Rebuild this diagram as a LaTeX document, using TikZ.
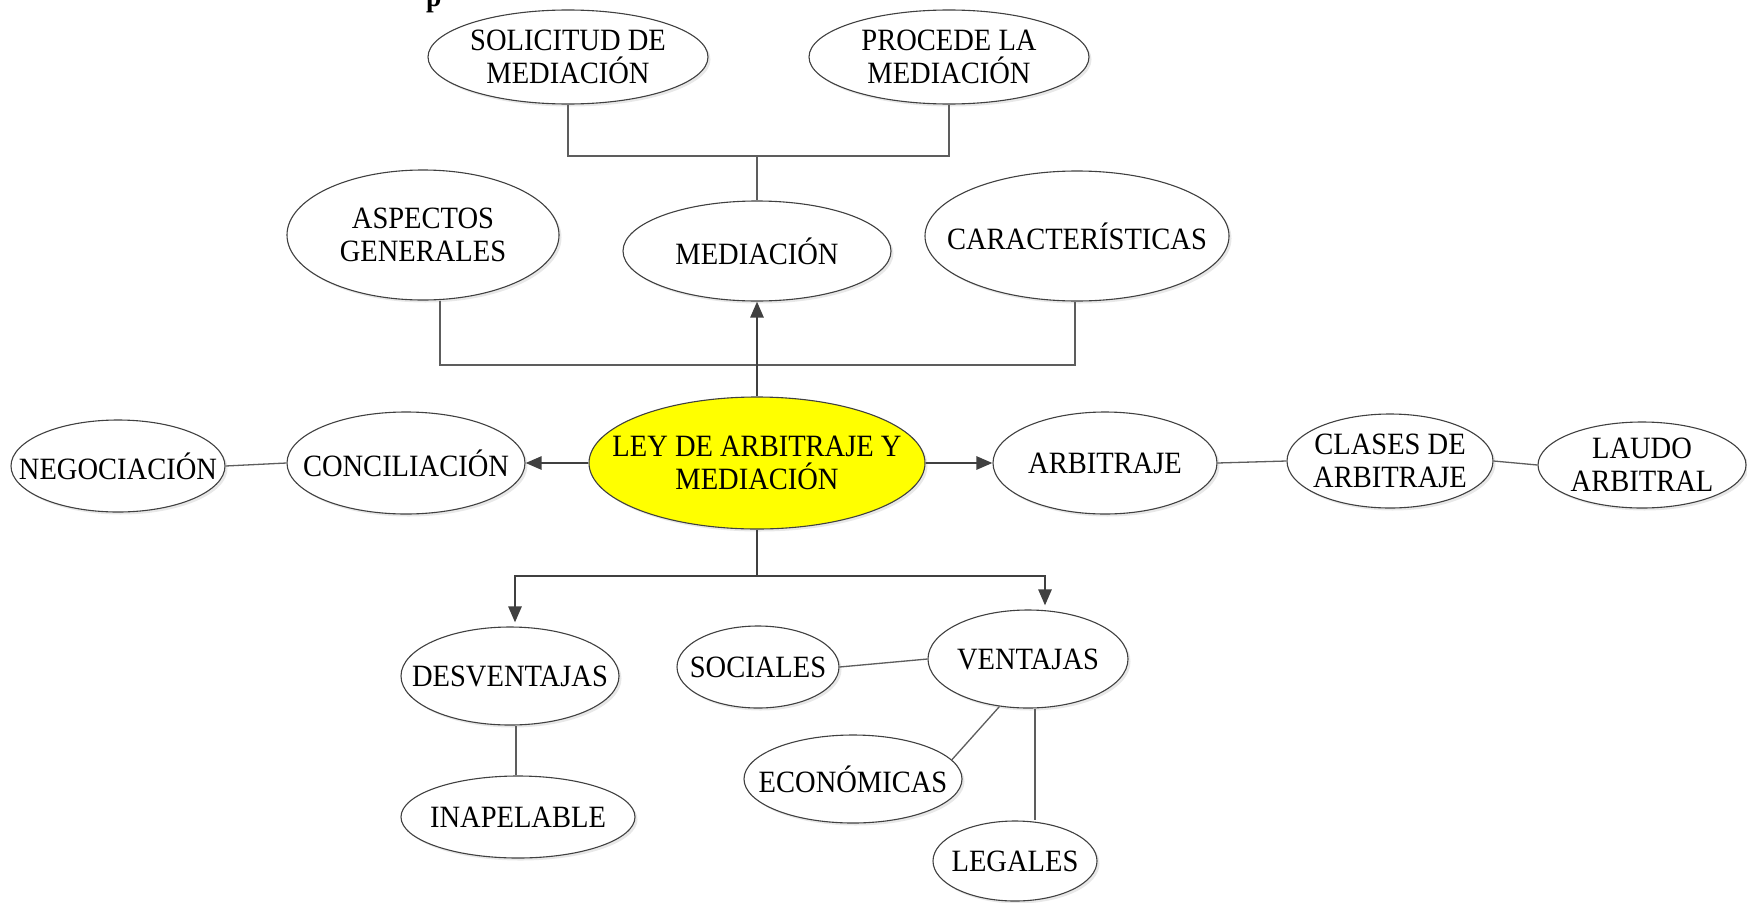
\documentclass[tikz,border=0pt]{standalone}
\usepackage{fontspec}
\setmainfont{Liberation Serif}[FakeStretch=0.92]
\usetikzlibrary{shapes.geometric,arrows.meta,shadows}
\definecolor{lineg}{HTML}{404040}
\definecolor{leyfill}{HTML}{FFFF00}
\tikzset{
  oval/.style={ellipse, draw=lineg, line width=1.1pt, fill=white, inner sep=0pt,
    drop shadow={shadow xshift=2.5pt, shadow yshift=-2.5pt, opacity=0.18, fill=gray}},
  txt/.style={align=center, font=\fontsize{31}{33}\selectfont, inner sep=0pt},
  thinline/.style={draw=lineg!85, line width=1.3pt},
  bigarrow/.style={draw=lineg, line width=2.6pt, -{Triangle[length=16pt,width=13pt]}},
  bigline/.style={draw=lineg, line width=2.6pt}
}
\newcommand{\ov}[6]{% name, x, y, rx, ry, text
  \node[oval, minimum width=#4*2pt, minimum height=#5*2pt, label={[txt]center:{#6}}] (#1) at (#2,#3) {};}
\begin{document}
\begin{tikzpicture}[x=1pt,y=-1pt]
\useasboundingbox[fill=white] (0,0) rectangle (1747,902);
\node[anchor=base west, font=\fontsize{30}{32}\selectfont\bfseries, inner sep=0pt] (ptxt) at (426,6) {p};
% nodes
\ov{sol}{568}{57}{140}{47}{SOLICITUD DE\\MEDIACIÓN}
\ov{pro}{949}{57}{140}{47}{PROCEDE LA\\MEDIACIÓN}
\ov{asp}{423}{235}{136}{65}{ASPECTOS\\GENERALES}
\ov{med}{757}{251}{134}{50}{MEDIACIÓN}
\ov{car}{1077}{236}{152}{65}{CARACTERÍSTICAS}
\node[oval, fill=leyfill, minimum width=336pt, minimum height=132pt, label={[txt]center:{LEY DE ARBITRAJE Y\\MEDIACIÓN}}] (ley) at (757,463) {};
\ov{con}{406}{463}{119}{51}{CONCILIACIÓN}
\ov{neg}{118}{466}{107}{46}{NEGOCIACIÓN}
\ov{arb}{1105}{463}{112}{51}{ARBITRAJE}
\ov{cla}{1390}{461}{103}{47}{CLASES DE\\ARBITRAJE}
\ov{lau}{1642}{465}{104}{43}{LAUDO\\ARBITRAL}
\ov{des}{510}{676}{109}{49}{DESVENTAJAS}
\ov{ina}{518}{817}{117}{41}{INAPELABLE}
\ov{soc}{758}{667}{81}{41}{SOCIALES}
\ov{ven}{1028}{659}{100}{49}{VENTAJAS}
\ov{eco}{853}{779}{109}{44}{ECONÓMICAS}
\ov{leg}{1015}{861}{82}{40}{LEGALES}
% junction points
\coordinate (b1) at (ley.north |- 0,156);
\coordinate (b2) at (ley.north |- 0,365);
\coordinate (b3) at (ley.south |- 0,576);
% top bracket
\draw[thinline] (sol.south) |- (b1) -| (pro.south);
\draw[thinline] (b1) -- (med.north);
% middle bracket
\draw[thinline] ([xshift=17pt]asp.south) |- (b2) -| ([xshift=-2pt]car.south);
% arrows from center
\draw[bigarrow] (ley.north) -- (med.south);
\draw[bigarrow] (ley.west) -- (con.east);
\draw[bigarrow] (ley.east) -- (arb.west);
\draw[bigline] (ley.south) -- (b3);
\draw[bigarrow] (b3) -| ([xshift=5pt,yshift=4pt]des.north);
\draw[bigarrow] (b3) -| ([xshift=17pt,yshift=4pt]ven.north);
% plain links
\draw[thinline] (neg.east) -- (con.west);
\draw[thinline] (arb.east) -- (cla.west);
\draw[thinline] (cla.east) -- (lau.west);
\draw[thinline] ([xshift=6pt]des.south) -- ([xshift=-2pt]ina.north);
\draw[thinline] (soc.east) -- (ven.west);
\draw[thinline] (ven.239) -- (eco.11);
\draw[thinline] ([xshift=7pt]ven.south) -- ([xshift=20pt]leg.north);
\end{tikzpicture}
\end{document}
